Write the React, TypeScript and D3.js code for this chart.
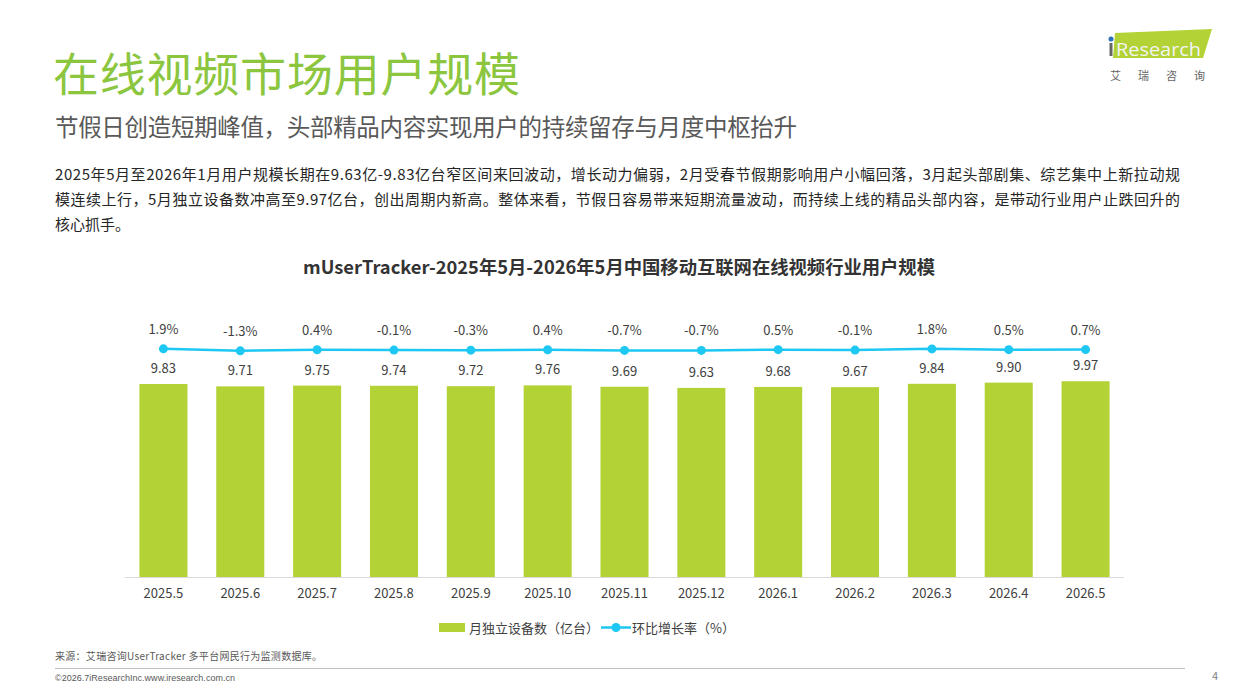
import React from "react";
import * as d3 from "d3";

const months = ["2025.5", "2025.6", "2025.7", "2025.8", "2025.9", "2025.10", "2025.11", "2025.12", "2026.1", "2026.2", "2026.3", "2026.4", "2026.5"];
const devices = [9.83, 9.71, 9.75, 9.74, 9.72, 9.76, 9.69, 9.63, 9.68, 9.67, 9.84, 9.9, 9.97];
const growth = [1.9, -1.3, 0.4, -0.1, -0.3, 0.4, -0.7, -0.7, 0.5, -0.1, 1.8, 0.5, 0.7];

const paragraph = [
  "2025年5月至2026年1月用户规模长期在9.63亿-9.83亿台窄区间来回波动，增长动力偏弱，2月受春节假期影响用户小幅回落，3月起头部剧集、综艺集中上新拉动规",
  "模连续上行，5月独立设备数冲高至9.97亿台，创出周期内新高。整体来看，节假日容易带来短期流量波动，而持续上线的精品头部内容，是带动行业用户止跌回升的",
  "核心抓手。",
];

const GREEN = "#b2d235";
const BLUE = "#1ec8f2";
const FONT = "'Noto Sans CJK SC', 'Noto Sans', sans-serif";

export default function App() {
  const x = d3.scaleBand<string>().domain(months).range([125, 1124]).paddingInner(0.375).paddingOuter(0.1875);
  const y = d3.scaleLinear().domain([0, 12]).range([577, 341.4]);
  const yRate = d3.scaleLinear().domain([-40, 40]).range([375, 325]);

  const line = d3
    .line<number>()
    .x((_, i) => (x(months[i]) as number) + x.bandwidth() / 2)
    .y((d) => yRate(d));

  const cx = (i: number) => (x(months[i]) as number) + x.bandwidth() / 2;

  return (
    <svg width={1240} height={697} style={{ position: "absolute", left: 0, top: 0, background: "#fff" }} fontFamily={FONT}>
      {/* header */}
      <text x={53} y={91} fontSize={46} fill="#8cc63f" textLength={467} lengthAdjust="spacing">在线视频市场用户规模</text>
      <text x={55} y={136} fontSize={23.5} fill="#595959" textLength={742} lengthAdjust="spacing">节假日创造短期峰值，头部精品内容实现用户的持续留存与月度中枢抬升</text>

      {/* logo */}
      <polygon points="1115,33 1212,29 1203,58 1113,58" fill="#b2d235" />
      <circle cx={1111} cy={39} r={2.5} fill="#2a6fb8" />
      <rect x={1109.5} y={43} width={3} height={13} fill="#666" />
      <text x={1116} y={56} fontSize={18} fill="#f4f4f4" fontFamily="'Open Sans', sans-serif" textLength={85} lengthAdjust="spacingAndGlyphs">Research</text>
      <text x={1110} y={80} fontSize={11} fill="#666" letterSpacing={17}>艾瑞咨询</text>

      {/* intro paragraph */}
      {paragraph.map((t, i) => (
        <text
          key={i}
          x={55}
          y={180 + i * 25}
          fontSize={15}
          fill="#262626"
          textLength={i < 2 ? 1125 : undefined}
          lengthAdjust="spacing"
        >
          {t}
        </text>
      ))}

      {/* chart title */}
      <text x={303} y={274} fontSize={18} fontWeight="bold" fill="#333" textLength={632} lengthAdjust="spacingAndGlyphs">
        mUserTracker-2025年5月-2026年5月中国移动互联网在线视频行业用户规模
      </text>

      {/* bars */}
      {devices.map((v, i) => (
        <g key={months[i]}>
          <rect x={x(months[i])} y={y(v)} width={x.bandwidth()} height={y(0) - y(v)} fill={GREEN} />
          <text x={cx(i)} y={y(v) - 11} textAnchor="middle" fontSize={13} fill="#404040">
            {v.toFixed(2)}
          </text>
          <text x={cx(i)} y={598} textAnchor="middle" fontSize={13} fill="#404040">
            {months[i]}
          </text>
        </g>
      ))}
      <line x1={125} x2={1124} y1={577.5} y2={577.5} stroke="#d9d9d9" strokeWidth={1} />

      {/* growth rate line */}
      <path d={line(growth) ?? ""} fill="none" stroke={BLUE} strokeWidth={2.5} />
      {growth.map((g, i) => (
        <g key={"g" + i}>
          <circle cx={cx(i)} cy={yRate(g)} r={4.5} fill={BLUE} />
          <text x={cx(i)} y={yRate(g) - 15} textAnchor="middle" fontSize={13} fill="#404040">
            {g.toFixed(1)}%
          </text>
        </g>
      ))}

      {/* legend */}
      <rect x={439} y={623} width={26} height={9} fill={GREEN} />
      <text x={469} y={632.5} fontSize={13} fill="#404040">月独立设备数（亿台）</text>
      <line x1={601} x2={631} y1={627.5} y2={627.5} stroke={BLUE} strokeWidth={2.5} />
      <circle cx={616} cy={627.5} r={4.5} fill={BLUE} />
      <text x={632} y={632.5} fontSize={13} fill="#404040">环比增长率（%）</text>

      {/* footer */}
      <text x={55} y={660} fontSize={10} fill="#595959" textLength={267} lengthAdjust="spacing">来源：艾瑞咨询UserTracker 多平台网民行为监测数据库。</text>
      <line x1={55} x2={1185} y1={668.5} y2={668.5} stroke="#bfbfbf" strokeWidth={1} />
      <text x={55} y={681} fontSize={9} fill="#595959" fontFamily="'Liberation Sans', Arial, sans-serif" textLength={180} lengthAdjust="spacing">©2026.7iResearchInc.www.iresearch.com.cn</text>
      <text x={1215} y={680} textAnchor="middle" fontSize={11} fill="#7f7f7f">4</text>
    </svg>
  );
}
